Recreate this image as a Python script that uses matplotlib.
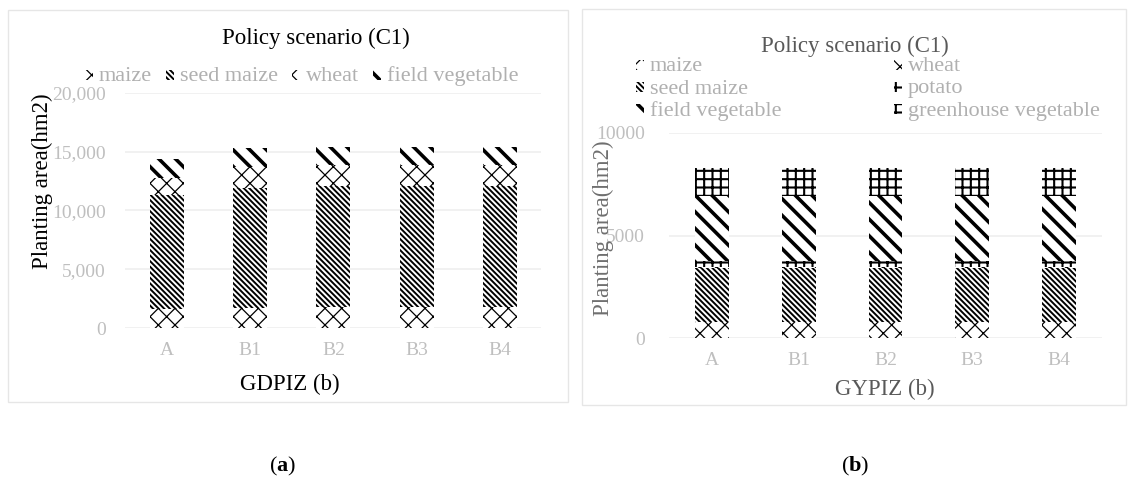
import matplotlib
matplotlib.use("Agg")
import matplotlib.pyplot as plt
from matplotlib.patches import Rectangle
import numpy as np

plt.rcParams['font.family'] = ['Liberation Serif', 'DejaVu Serif']
plt.rcParams['mathtext.fontset'] = 'custom'
plt.rcParams['mathtext.rm'] = 'Liberation Serif'
plt.rcParams['mathtext.bf'] = 'Liberation Serif:bold'

# ---------------- data ----------------
categories = ["A", "B1", "B2", "B3", "B4"]

# panel (a) GDPIZ
a_maize = [1600, 1700, 1800, 1800, 1800]
a_seed_maize = [9700, 10180, 10280, 10280, 10280]
a_wheat = [1500, 1840, 1780, 1780, 1780]
a_field_veg = [1550, 1560, 1500, 1500, 1500]

# panel (b) GYPIZ
b_maize = [810, 810, 810, 810, 810]
b_seed_maize = [2620, 2620, 2620, 2620, 2620]
b_wheat = [30, 30, 30, 30, 30]
b_potato = [280, 280, 280, 280, 280]
b_field_veg = [3180, 3180, 3180, 3180, 3180]
b_greenhouse = [1380, 1380, 1380, 1380, 1380]

a_yticks = [0, 5000, 10000, 15000, 20000]
a_yticklabels = ["0", "5,000", "10,000", "15,000", "20,000"]
b_yticks = [0, 5000, 10000]
b_yticklabels = ["0", "5000", "10000"]

# ---------------- styles ----------------
STYLE = {
    "maize": dict(hatch="xx", lw=0.9),
    "seed maize": dict(hatch="\\" * 6, lw=1.4),
    "wheat": dict(hatch="xx", lw=0.9),
    "potato": dict(hatch="++", lw=1.5),
    "field vegetable": dict(hatch="\\\\", lw=2.6),
    "greenhouse vegetable": dict(hatch="++", lw=1.5),
}

W, H = 1129, 490
fig = plt.figure(figsize=(W / 100, H / 100), dpi=100)
fig.patch.set_facecolor("white")
renderer = fig.canvas.get_renderer()


def px_axes(x0, ytop, x1, ybot):
    return fig.add_axes([x0 / W, 1 - ybot / H, (x1 - x0) / W, (ybot - ytop) / H])


def fx(x):
    return x / W


def fy(y):
    return 1 - y / H


def hatched(patch, name):
    st = STYLE[name]
    patch.set_hatch(st["hatch"])
    try:
        patch.set_hatch_linewidth(st["lw"])
    except AttributeError:
        pass


def stacked(ax, series, width):
    x = np.arange(len(categories))
    bottom = np.zeros(len(categories))
    for name, vals in series:
        bars = ax.bar(x, vals, width, bottom=bottom, color="white",
                      edgecolor="black", linewidth=0, zorder=3)
        for b in bars:
            hatched(b, name)
        bottom = bottom + np.array(vals)
    return x


def style_axes(ax, yticks, ylabels, ymax, tcolor, pad):
    ax.set_xlim(-0.5, len(categories) - 0.5)
    ax.set_ylim(0, ymax)
    ax.set_yticks(yticks)
    ax.set_yticklabels(ylabels)
    for s in ax.spines.values():
        s.set_visible(False)
    ax.tick_params(length=0, labelsize=14, labelcolor=tcolor, pad=pad)
    ax.yaxis.grid(True, color="#efefef", linewidth=1.2, zorder=0)
    ax.set_axisbelow(True)
    ax.set_xticks(np.arange(len(categories)))
    ax.set_xticklabels(categories)


LEG_COLOR = "#b0b0b0"


def legend_entry(xh, yb, name):
    r = Rectangle((fx(xh), fy(yb - 1)), 8 / W, 10 / H, transform=fig.transFigure,
                  facecolor="white", edgecolor="black", linewidth=0)
    hatched(r, name)
    fig.patches.append(r)
    t = fig.text(fx(xh + 14), fy(yb), name, fontsize=16, color=LEG_COLOR,
                 va="baseline", ha="left")
    bb = t.get_window_extent(renderer)
    return xh + 14 + bb.width


# panel borders
for (x0, y0, x1, y1) in [(8, 10, 568, 402), (582, 9, 1126, 405)]:
    fig.patches.append(Rectangle((fx(x0), fy(y1)), (x1 - x0) / W, (y1 - y0) / H,
                                 transform=fig.transFigure, facecolor="none",
                                 edgecolor="#e6e6e6", linewidth=1))

# ---------------- panel (a) ----------------
axa = px_axes(125.4, 92.7, 541.4, 328.3)
stacked(axa, [("maize", a_maize), ("seed maize", a_seed_maize),
              ("wheat", a_wheat), ("field vegetable", a_field_veg)], 0.41)
style_axes(axa, a_yticks, a_yticklabels, 20000, "#bfbfbf", 14)
axa.tick_params(axis="x", pad=10)
fig.text(fx(316), fy(44), "Policy scenario (C1)", fontsize=16.5, color="black",
         ha="center", va="baseline")
fig.text(fx(42), fy(181), "Planting area(hm2)", fontsize=16.5, color="black",
         ha="center", va="center", rotation=90)
fig.text(fx(290), fy(390), "GDPIZ (b)", fontsize=16.5, color="black",
         ha="center", va="baseline")
xcur = 85
for nm in ["maize", "seed maize", "wheat", "field vegetable"]:
    xend = legend_entry(xcur, 81, nm)
    xcur = xend + 14

# ---------------- panel (b) ----------------
axb = px_axes(668.6, 132.7, 1102.4, 338.3)
stacked(axb, [("maize", b_maize), ("seed maize", b_seed_maize),
              ("wheat", b_wheat), ("potato", b_potato),
              ("field vegetable", b_field_veg),
              ("greenhouse vegetable", b_greenhouse)], 0.39)
style_axes(axb, b_yticks, b_yticklabels, 10000, "#bfbfbf", 17)
axb.tick_params(axis="x", pad=10)
fig.text(fx(855), fy(52), "Policy scenario (C1)", fontsize=16.5, color="#595959",
         ha="center", va="baseline")
fig.text(fx(603), fy(228), "Planting area(hm2)", fontsize=16.5, color="#6f6f6f",
         ha="center", va="center", rotation=90)
fig.text(fx(885), fy(395), "GYPIZ (b)", fontsize=16.5, color="#595959",
         ha="center", va="baseline")
col1 = [("maize", 71), ("seed maize", 93.5), ("field vegetable", 115.5)]
col2 = [("wheat", 71), ("potato", 93.5), ("greenhouse vegetable", 115.5)]
for nm, yb in col1:
    legend_entry(636, yb, nm)
for nm, yb in col2:
    legend_entry(894, yb, nm)

# captions
fig.text(fx(283), fy(471), r"($\mathbf{a}$)", fontsize=16, color="black",
         ha="center", va="baseline")
fig.text(fx(855), fy(471), r"($\mathbf{b}$)", fontsize=16, color="black",
         ha="center", va="baseline")

fig.savefig("out.png", dpi=100, facecolor="white")
